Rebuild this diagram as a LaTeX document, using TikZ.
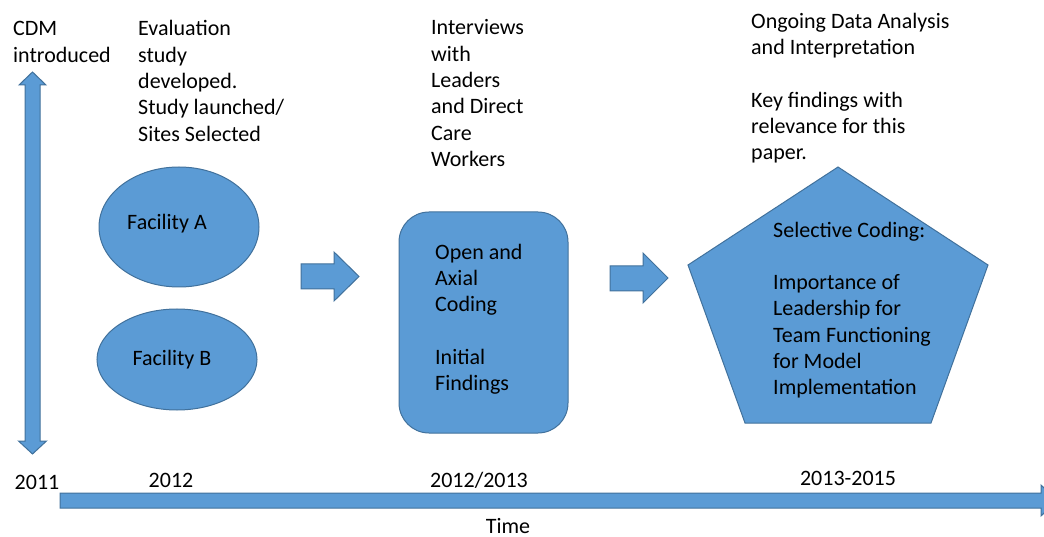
\documentclass[tikz,border=0pt]{standalone}
\usepackage{fontspec}
\setmainfont{Carlito}
\usetikzlibrary{shapes.geometric}
\definecolor{boxfill}{HTML}{5B9BD5}
\definecolor{boxline}{HTML}{41719C}
\begin{document}
\begin{tikzpicture}[x=1pt,y=-1pt,
  shapefill/.style={fill=boxfill,draw=boxline,line width=1pt},
  txt/.style={anchor=base west,align=left,inner sep=0pt,font=\fontsize{22}{26.3}\selectfont},
  ctxt/.style={anchor=base,inner sep=0pt,font=\fontsize{22}{26.3}\selectfont}]
\useasboundingbox (0,0) rectangle (1044,537);
\clip (0,0) rectangle (1044,537);

% vertical double arrow
\draw[shapefill] (32.5,72) -- (46,85) -- (40,85) -- (40,441) -- (46.5,441) -- (32.5,454)
  -- (18.5,441) -- (25,441) -- (25,85) -- (19,85) -- cycle;

% timeline arrow
\draw[shapefill] (60,493) -- (1041,493) -- (1041,485) -- (1057,500.5) -- (1041,516)
  -- (1041,508) -- (60,508) -- cycle;

% ellipses
\node[ellipse,shapefill,minimum width=160pt,minimum height=120pt,inner sep=0pt] (facA) at (179,227) {};
\node[ellipse,shapefill,minimum width=160pt,minimum height=101pt,inner sep=0pt] (facB) at (177,359.5) {};

% rounded rectangle
\node[shapefill,rounded corners=30pt,minimum width=169pt,minimum height=221pt,inner sep=0pt] (coding) at (483.5,322.5) {};

% pentagon
\coordinate (p1) at (838,167);
\coordinate (p2) at (988,265);
\coordinate (p3) at (931,423);
\coordinate (p4) at (745,423);
\coordinate (p5) at (688,265);
\draw[shapefill] (p1) -- (p2) -- (p3) -- (p4) -- (p5) -- cycle;

% block arrows
\draw[shapefill] (301,264) -- (334,264) -- (334,252) -- (359,276.5) -- (334,301) -- (334,289) -- (301,289) -- cycle;
\draw[shapefill] (610,266) -- (643,266) -- (643,253) -- (668,278) -- (643,303) -- (643,291) -- (610,291) -- cycle;

% texts (anchor = baseline of last line)
\node[txt] (t1) at (13,62.3) {CDM\\introduced};
\node[txt] (t2) at (138,141.2) {Evaluation\\study\\developed.\\Study launched/\\Sites Selected};
\node[txt] (t3) at (431,166.5) {Interviews\\with\\Leaders\\and Direct\\Care\\Workers};
\node[txt] (t4) at (751,160) {Ongoing Data Analysis\\and Interpretation\\[26.3pt]Key findings with\\relevance for this\\paper.};
\node[txt] (t5) at (435,390.5) {Open and\\Axial\\Coding\\[26.3pt]Initial\\Findings};
\node[txt] (t6) at (773,394.8) {Selective Coding:\\[26.3pt]Importance of\\Leadership for\\Team Functioning\\for Model\\Implementation};
\node[ctxt] (fa) at (167,230) {Facility A};
\node[ctxt] (fb) at (172,365) {Facility B};
\node[ctxt] (y1) at (37,489) {2011};
\node[ctxt] (y2) at (171,487) {2012};
\node[ctxt] (y3) at (479,487) {2012/2013};
\node[ctxt] (y4) at (848,485) {2013-2015};
\node[ctxt] (tm) at (508,533) {Time};
\end{tikzpicture}
\end{document}
